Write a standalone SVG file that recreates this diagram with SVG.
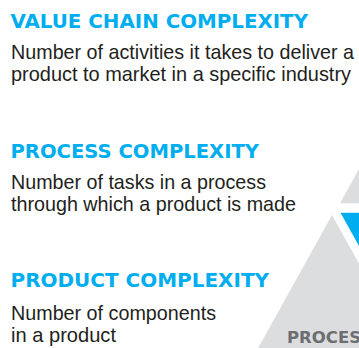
<svg xmlns="http://www.w3.org/2000/svg" width="359" height="348" viewBox="0 0 359 348">
<style>
.h{font-family:"DejaVu Sans","Open Sans",sans-serif;font-weight:700;font-size:20px;fill:#00AEEF}
.b{font-family:"Liberation Sans",Arial,sans-serif;font-size:21px;fill:#231F20}
.g{fill:#DCDDDE}
.bl{fill:#00AEEF}
.p{font-family:"DejaVu Sans","Open Sans",sans-serif;font-weight:700;font-size:16.5px;fill:#6D6E71}
</style>
<rect width="359" height="348" fill="#FFFFFF"/>
<g id="value-chain">
<text class="h" x="10.5" y="27.5" textLength="297.5" lengthAdjust="spacingAndGlyphs">VALUE CHAIN COMPLEXITY</text>
<text class="b" x="11" y="58.5" textLength="343" lengthAdjust="spacingAndGlyphs">Number of activities it takes to deliver a</text>
<text class="b" x="11" y="81" textLength="340" lengthAdjust="spacingAndGlyphs">product to market in a specific industry</text>
</g>
<g id="process">
<text class="h" x="10.5" y="157.5" textLength="248.5" lengthAdjust="spacingAndGlyphs">PROCESS COMPLEXITY</text>
<text class="b" x="11" y="188.5" textLength="255" lengthAdjust="spacingAndGlyphs">Number of tasks in a process</text>
<text class="b" x="11" y="211" textLength="285" lengthAdjust="spacingAndGlyphs">through which a product is made</text>
</g>
<g id="product">
<text class="h" x="10.5" y="287" textLength="258.5" lengthAdjust="spacingAndGlyphs">PRODUCT COMPLEXITY</text>
<text class="b" x="11" y="319.5" textLength="205" lengthAdjust="spacingAndGlyphs">Number of components</text>
<text class="b" x="11" y="342" textLength="105" lengthAdjust="spacingAndGlyphs">in a product</text>
</g>
<g id="pyramid">
<polygon class="g" points="340,203.3 376,138.5 420,203.3"/>
<polygon class="bl" points="340.5,212.7 450,212.7 395.25,311.25"/>
<polygon class="g" points="332,215 258.1,348 406,348"/>
<text class="p" x="287" y="343">PROCES</text>
</g>
</svg>
